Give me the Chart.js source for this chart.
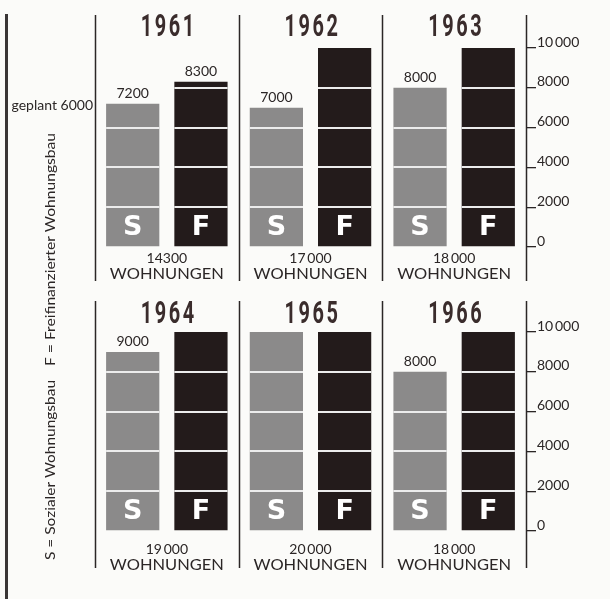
<!DOCTYPE html>
<html>
<head>
<meta charset="utf-8">
<script src="https://cdn.jsdelivr.net/npm/chart.js@4/dist/chart.umd.min.js"></script>
<style>
  body { margin: 0; background: #fbfbf9; }
  #wrap { position: relative; width: 610px; height: 599px; }
  canvas { position: absolute; left: 0; top: 0; }
</style>
</head>
<body>
<div id="wrap">
  <canvas id="topChart" width="610" height="599"></canvas>
  <canvas id="bottomChart" width="610" height="599"></canvas>
</div>
<script>
// Wohnungsbau 1961-1966: S = Sozialer Wohnungsbau, F = Freifinanzierter Wohnungsbau
const topYears = ['1961', '1962', '1963'];
const topSozial = [7200, 7000, 8000];
const topFrei = [8300, 10000, 10000];
const topTotals = ['14300', '17\u2009000', '18\u2009000'];

const bottomYears = ['1964', '1965', '1966'];
const bottomSozial = [9000, 10000, 8000];
const bottomFrei = [10000, 10000, 10000];
const bottomTotals = ['19\u2009000', '20\u2009000', '18\u2009000'];

const axisTicks = [0, 2000, 4000, 6000, 8000, 10000];
const tickLabels = ['0', '2000', '4000', '6000', '8000', '10\u2009000'];
const segmentLevels = [2000, 4000, 6000, 8000];
const seriesLetters = ['S', 'F'];

const FONT = 'Lato, "Noto Sans", sans-serif';
const INK = '#2b2626';

// draw text squeezed/stretched to a given width
function fitText(ctx, text, x, y, width) {
    const w = ctx.measureText(text).width;
    ctx.save();
    ctx.translate(x, y);
    ctx.scale(width / w, 1);
    ctx.fillText(text, 0, 0);
    ctx.restore();
}

const decor = {
    id: 'decor',
    afterDatasetsDraw(chart, args, opts) {
        const ctx = chart.ctx;
        const x = chart.scales.x;
        const y = chart.scales.y;
        const area = chart.chartArea;
        ctx.save();

        // white segment lines, letters and value labels
        chart.data.datasets.forEach((ds, di) => {
            const meta = chart.getDatasetMeta(di);
            meta.data.forEach((bar, i) => {
                const v = ds.data[i];
                const left = bar.x - bar.width / 2;
                const right = bar.x + bar.width / 2;
                ctx.strokeStyle = '#ececec';
                ctx.lineWidth = 2;
                segmentLevels.forEach(level => {
                    if (v > level) {
                        const py = Math.round(y.getPixelForValue(level));
                        ctx.beginPath();
                        ctx.moveTo(left, py);
                        ctx.lineTo(right, py);
                        ctx.stroke();
                    }
                });
                ctx.fillStyle = '#ffffff';
                ctx.font = 'bold 27px "DejaVu Sans", sans-serif';
                ctx.textAlign = 'center';
                ctx.textBaseline = 'middle';
                const segMid = (y.getPixelForValue(0) + y.getPixelForValue(2000)) / 2;
                ctx.fillText(seriesLetters[di], bar.x, segMid + 1);

                if (v < 10000) {
                    ctx.fillStyle = INK;
                    ctx.font = '14px ' + FONT;
                    ctx.textBaseline = 'bottom';
                    ctx.fillText(String(v), bar.x, bar.y - 3);
                }
            });
        });

        // panel dividers and axis line
        const step = (area.right - area.left) / chart.data.labels.length;
        ctx.strokeStyle = INK;
        ctx.lineWidth = 1.5;
        for (let i = 0; i <= chart.data.labels.length; i++) {
            const px = Math.round(area.left + i * step) + 0.5;
            ctx.beginPath();
            ctx.moveTo(px, opts.lineTop);
            ctx.lineTo(px, opts.lineBottom);
            ctx.stroke();
        }

        // years and totals
        chart.data.labels.forEach((label, i) => {
            const cx = x.getPixelForValue(i);
            ctx.font = 'bold 31px Roboto, "DejaVu Sans", sans-serif';
            ctx.letterSpacing = '4px';
            ctx.fillStyle = '#3a2c2c';
            ctx.textAlign = 'center';
            ctx.textBaseline = 'middle';
            fitText(ctx, label, cx + 2, opts.yearY, 56);
            ctx.letterSpacing = '0px';

            ctx.fillStyle = INK;
            ctx.font = '14px ' + FONT;
            ctx.fillText(opts.totals[i], cx, opts.totalY);
            ctx.font = '16px ' + FONT;
            fitText(ctx, 'WOHNUNGEN', cx, opts.totalY + 16, 114);
        });

        if (opts.side) {
            // left rule, legend and plan value
            ctx.fillStyle = '#3a3636';
            ctx.fillRect(5, 14, 3, 585);

            ctx.fillStyle = INK;
            ctx.font = '14px ' + FONT;
            ctx.textAlign = 'right';
            ctx.textBaseline = 'middle';
            ctx.fillText('geplant 6000', 93, 105);

            ctx.save();
            ctx.translate(55, 0);
            ctx.rotate(-Math.PI / 2);
            ctx.textAlign = 'left';
            ctx.textBaseline = 'alphabetic';
            fitText(ctx, 'S = Sozialer Wohnungsbau', -560, 0, 180);
            fitText(ctx, 'F = Freifinanzierter Wohnungsbau', -366, 0, 233);
            ctx.restore();
        }
        ctx.restore();
    }
};

function makeChart(id, years, sozial, frei, totals, padTop, padBottom, extra) {
    return new Chart(document.getElementById(id), {
        type: 'bar',
        data: {
            labels: years,
            datasets: [
                { label: 'S', data: sozial, backgroundColor: '#8b8a8a' },
                { label: 'F', data: frei, backgroundColor: '#231b1b' }
            ]
        },
        options: {
            responsive: false,
            animation: false,
            devicePixelRatio: 1,
            categoryPercentage: 0.95,
            barPercentage: 0.78,
            layout: { padding: { left: 95, right: 0, top: padTop, bottom: padBottom } },
            plugins: {
                legend: { display: false },
                tooltip: { enabled: false },
                decor: Object.assign({ totals: totals }, extra)
            },
            scales: {
                x: { display: false },
                y: {
                    position: 'right',
                    min: 0,
                    max: 10000,
                    afterBuildTicks: scale => {
                        scale.ticks = axisTicks.map(v => ({ value: v }));
                    },
                    afterFit: scale => { scale.width = 84; },
                    border: { display: false },
                    grid: { drawOnChartArea: false, drawTicks: true, tickLength: 10, color: INK, lineWidth: 1.3 },
                    ticks: {
                        font: { family: FONT, size: 14 },
                        color: INK,
                        padding: 1,
                        labelOffset: -6,
                        callback: (v, i) => tickLabels[axisTicks.indexOf(v)]
                    }
                }
            }
        },
        plugins: [decor]
    });
}

makeChart('topChart', topYears, topSozial, topFrei, topTotals, 48, 352,
    { lineTop: 15, lineBottom: 281, yearY: 28, totalY: 258, side: true });
makeChart('bottomChart', bottomYears, bottomSozial, bottomFrei, bottomTotals, 332, 68,
    { lineTop: 301, lineBottom: 568, yearY: 315, totalY: 549, side: false });
</script>
</body>
</html>
